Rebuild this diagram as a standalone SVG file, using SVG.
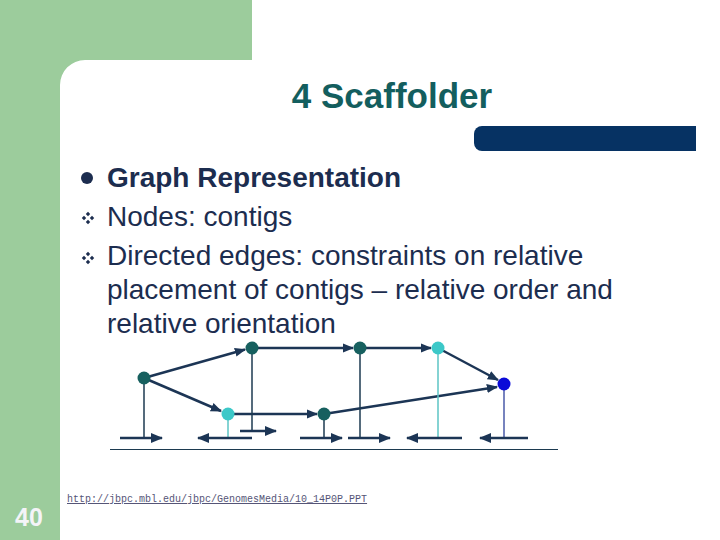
<svg xmlns="http://www.w3.org/2000/svg" width="720" height="540" viewBox="0 0 720 540">
<defs>
<marker id="ah" viewBox="0 0 10 10" refX="9" refY="5" markerWidth="4.5" markerHeight="4.5" orient="auto" markerUnits="strokeWidth"><path d="M0,1 L10,5 L0,9 Z" fill="#1c3555"/></marker>
<marker id="sh" viewBox="0 0 10 10" refX="9" refY="5" markerWidth="5" markerHeight="5" orient="auto" markerUnits="strokeWidth"><path d="M0,1 L10,5 L0,9 Z" fill="#1c3555"/></marker>
<g id="dia" fill="#1c2d4f">
<path d="M0,-6.2 L2.2,-4 L0,-1.8 L-2.2,-4 Z"/>
<path d="M0,1.8 L2.2,4 L0,6.2 L-2.2,4 Z"/>
<path d="M-6.2,0 L-4,-2.2 L-1.8,0 L-4,2.2 Z"/>
<path d="M6.2,0 L4,-2.2 L1.8,0 L4,2.2 Z"/>
</g>
</defs>
<style>
.body{font-family:"Liberation Sans",Arial,sans-serif;font-size:28px;fill:#1c2d4f}
.edge{stroke:#1c3555;stroke-width:2.5;fill:none;marker-end:url(#ah)}
.stem{stroke-width:1.5;fill:none}
.dir{stroke:#1c3555;stroke-width:2.5;fill:none;marker-end:url(#sh)}
.teal{fill:#17605f}
</style>
<rect x="0" y="0" width="720" height="540" fill="#ffffff"/>
<path d="M0,0 H252 V60 H85 A25,25 0 0 0 60,85 V540 H0 Z" fill="#9ccc9c"/>
<path d="M482,126 H696 V151 H482 A8,8 0 0 1 474,143 V134 A8,8 0 0 1 482,126 Z" fill="#063263"/>
<text x="392" y="108" text-anchor="middle" font-family="Liberation Sans, Arial, sans-serif" font-size="35" font-weight="bold" fill="#135e5e">4 Scaffolder</text>
<g id="bullets">
<circle cx="87" cy="178" r="6" fill="#1c2d4f"/>
<use href="#dia" x="88" y="218"/>
<use href="#dia" x="88" y="258"/>
<text class="body" x="107" y="187" font-weight="bold">Graph Representation</text>
<text class="body" x="107" y="226">Nodes: contigs</text>
<text class="body" x="107" y="265">Directed edges: constraints on relative</text>
<text class="body" x="107" y="299">placement of contigs – relative order and</text>
<text class="body" x="107" y="333">relative orientation</text>
</g>
<g id="connectors">
<line class="edge" x1="144" y1="378" x2="245" y2="349.5"/>
<line class="edge" x1="144" y1="378" x2="221" y2="411"/>
<line class="edge" x1="252" y1="348" x2="353" y2="348"/>
<line class="edge" x1="360" y1="348" x2="431" y2="348"/>
<line class="edge" x1="438" y1="348" x2="498" y2="380"/>
<line class="edge" x1="228" y1="414" x2="317" y2="414"/>
<line class="edge" x1="324" y1="414" x2="497" y2="387"/>
</g>
<g id="stems">
<line class="stem" x1="144" y1="378" x2="144" y2="438" stroke="#1c3a50"/>
<line class="stem" x1="252" y1="348" x2="252" y2="431" stroke="#1c3a50"/>
<line class="stem" x1="360" y1="348" x2="360" y2="438" stroke="#1c3a50"/>
<line class="stem" x1="438" y1="348" x2="438" y2="438" stroke="#5cc4c4"/>
<line class="stem" x1="504" y1="384" x2="504" y2="438" stroke="#4a5aa8"/>
<line class="stem" x1="228" y1="414" x2="228" y2="438" stroke="#5cc4c4"/>
<line class="stem" x1="324" y1="414" x2="324" y2="438" stroke="#1c3a50"/>
<line class="dir" x1="120" y1="438" x2="162" y2="438"/>
<line class="dir" x1="240" y1="431" x2="276" y2="431"/>
<line class="dir" x1="252" y1="438" x2="198" y2="438"/>
<line class="dir" x1="300" y1="438" x2="342" y2="438"/>
<line class="dir" x1="348" y1="438" x2="390" y2="438"/>
<line class="dir" x1="462" y1="438" x2="407" y2="438"/>
<line class="dir" x1="528" y1="438" x2="480" y2="438"/>
<line x1="110" y1="449.5" x2="558" y2="449.5" stroke="#1c3a50" stroke-width="1.2"/>
</g>
<g id="nA"><circle class="teal" cx="144" cy="378" r="6.5"/></g>
<g id="nB"><circle class="teal" cx="252" cy="348" r="6.5"/></g>
<g id="nC"><circle class="teal" cx="360" cy="348" r="6.5"/></g>
<g id="nD"><circle cx="438" cy="348" r="6.5" fill="#3cc8c8"/></g>
<g id="nE"><circle cx="504" cy="384" r="6.5" fill="#0a0ad8"/></g>
<g id="nF"><circle cx="228" cy="414" r="6.5" fill="#3cc8c8"/></g>
<g id="nG"><circle class="teal" cx="324" cy="414" r="6.5"/></g>
<text x="67" y="502" font-family="Liberation Mono, Courier New, monospace" font-size="10" fill="#555577" text-decoration="underline">http://jbpc.mbl.edu/jbpc/GenomesMedia/10_14P0P.PPT</text>
<text x="15" y="526" font-family="Liberation Sans, Arial, sans-serif" font-size="25" font-weight="bold" fill="#f4f4f8">40</text>
</svg>
